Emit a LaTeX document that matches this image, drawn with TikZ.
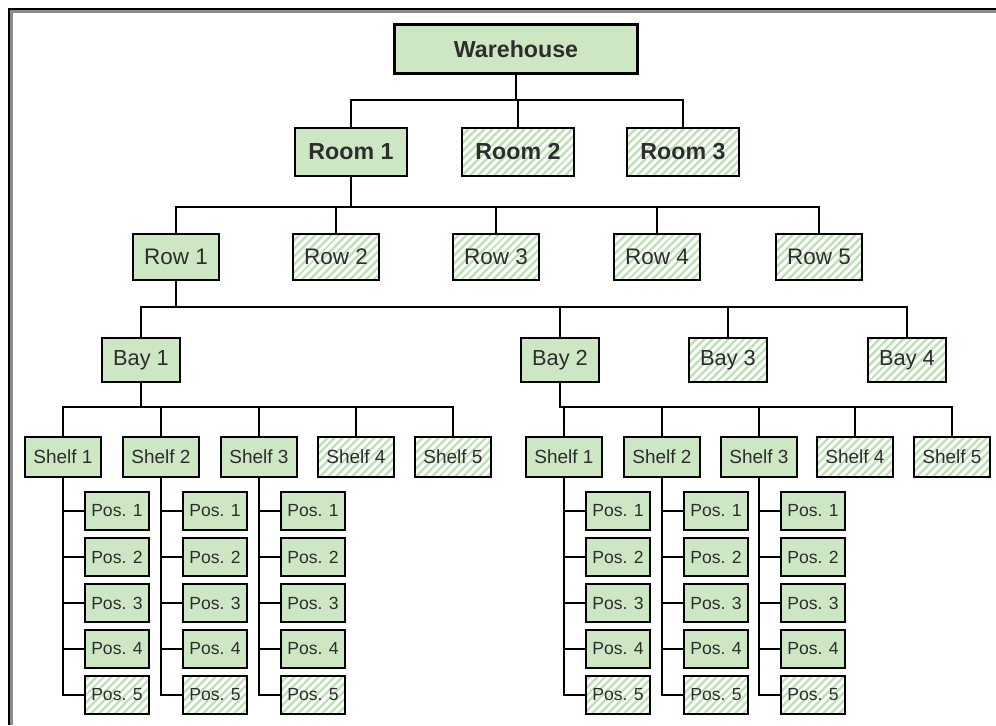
\documentclass[tikz,border=0pt]{standalone}
\usepackage{fontspec}
\setmainfont{Liberation Sans}
\usetikzlibrary{patterns.meta,positioning}
\definecolor{whgreen}{RGB}{205,231,197}
\definecolor{whstripe}{RGB}{186,223,176}
\definecolor{whtext}{RGB}{45,45,45}
\tikzset{
  wbox/.style={draw=black, line width=2pt, fill=whgreen, inner sep=0pt, text=whtext},
  whatch/.style={draw=black, line width=2pt, inner sep=0pt, text=whtext,
    pattern={Lines[angle=45,distance=4pt,line width=1.7pt]}, pattern color=whstripe},
  whsz/.style={minimum width=60.75mm, minimum height=12.25mm, font=\fontsize{16.5}{18}\selectfont\bfseries},
  roomsz/.style={minimum width=28mm, minimum height=12mm, font=\fontsize{16.5}{18}\selectfont\bfseries},
  rowsz/.style={minimum width=21.5mm, minimum height=11.5mm, font=\fontsize{16}{18}\selectfont},
  baysz/.style={minimum width=19.5mm, minimum height=11mm, font=\fontsize{15.5}{18}\selectfont},
  shelfsz/.style={minimum width=19mm, minimum height=10mm, font=\fontsize{13.5}{15}\selectfont},
  possz/.style={minimum width=16mm, minimum height=9.5mm, font=\fontsize{12.5}{14}\selectfont},
  conn/.style={line width=1.8pt, black}
}

\begin{document}
\begin{tikzpicture}[x=0.25mm, y=-0.25mm]
  \useasboundingbox (0,0) rectangle (996,725);
  % frame
  \draw[line width=1.5pt, black!45] (11.5,725) -- (11.5,11.5) -- (996,11.5);
  \draw[line width=2pt] (9,725) -- (9,9) -- (996,9);

  % top levels
  \node[wbox,whsz] (wh) at (516,49) {Warehouse};
  \node[wbox,roomsz] (rm1) at (351,152) {Room 1};
  \node[whatch,roomsz] (rm2) at (518,152) {Room 2};
  \node[whatch,roomsz] (rm3) at (683,152) {Room 3};

  \node[wbox,rowsz] (row1) at (176,257) {Row 1};
  \node[whatch,rowsz] (row2) at (336,257) {Row 2};
  \node[whatch,rowsz] (row3) at (496,257) {Row 3};
  \node[whatch,rowsz] (row4) at (657,257) {Row 4};
  \node[whatch,rowsz] (row5) at (819,257) {Row 5};

  \node[wbox,baysz] (bay1) at (141,360) {Bay 1};
  \node[wbox,baysz] (bay2) at (560,360) {Bay 2};
  \node[whatch,baysz] (bay3) at (728,360) {Bay 3};
  \node[whatch,baysz] (bay4) at (907,360) {Bay 4};

  % shelves of bay 1 and bay 2
  \node[wbox,shelfsz] (sa1) at (63,457) {Shelf 1};
  \node[wbox,shelfsz] (sa2) at (161,457) {Shelf 2};
  \node[wbox,shelfsz] (sa3) at (259,457) {Shelf 3};
  \node[whatch,shelfsz] (sa4) at (356,457) {Shelf 4};
  \node[whatch,shelfsz] (sa5) at (453,457) {Shelf 5};
  \node[wbox,shelfsz] (sb1) at (564,457) {Shelf 1};
  \node[wbox,shelfsz] (sb2) at (662,457) {Shelf 2};
  \node[wbox,shelfsz] (sb3) at (759,457) {Shelf 3};
  \node[whatch,shelfsz] (sb4) at (855,457) {Shelf 4};
  \node[whatch,shelfsz] (sb5) at (952,457) {Shelf 5};

  % tree connectors
  \foreach \c in {rm1,rm2,rm3}
    \draw[conn] (wh.south) -- (wh.south |- 0,100) -| (\c.north);
  \foreach \c in {row1,row2,row3,row4,row5}
    \draw[conn] (rm1.south) -- (rm1.south |- 0,207) -| (\c.north);
  \foreach \c in {bay1,bay2,bay3,bay4}
    \draw[conn] (row1.south) -- (row1.south |- 0,307) -| (\c.north);
  \foreach \c in {sa1,sa2,sa3,sa4,sa5}
    \draw[conn] (bay1.south) -- (bay1.south |- 0,407) -| (\c.north);
  \foreach \c in {sb1,sb2,sb3,sb4,sb5}
    \draw[conn] (bay2.south) -- (bay2.south |- 0,407) -| (\c.north);

  % positions
  \foreach \s/\x in {sa1/63,sa2/161,sa3/259,sb1/564,sb2/662,sb3/759}{
    \foreach \j/\y in {1/511,2/557,3/603,4/649}{
      \node[wbox,possz] (\s-\j) at (\x+54,\y) {Pos. \j};
      \draw[conn] (\s.south |- \s-\j.west) -- (\s-\j.west);
    }
    \node[whatch,possz] (\s-5) at (\x+54,695) {Pos. 5};
    \draw[conn] (\s.south) |- (\s-5.west);
  }
\end{tikzpicture}
\end{document}
